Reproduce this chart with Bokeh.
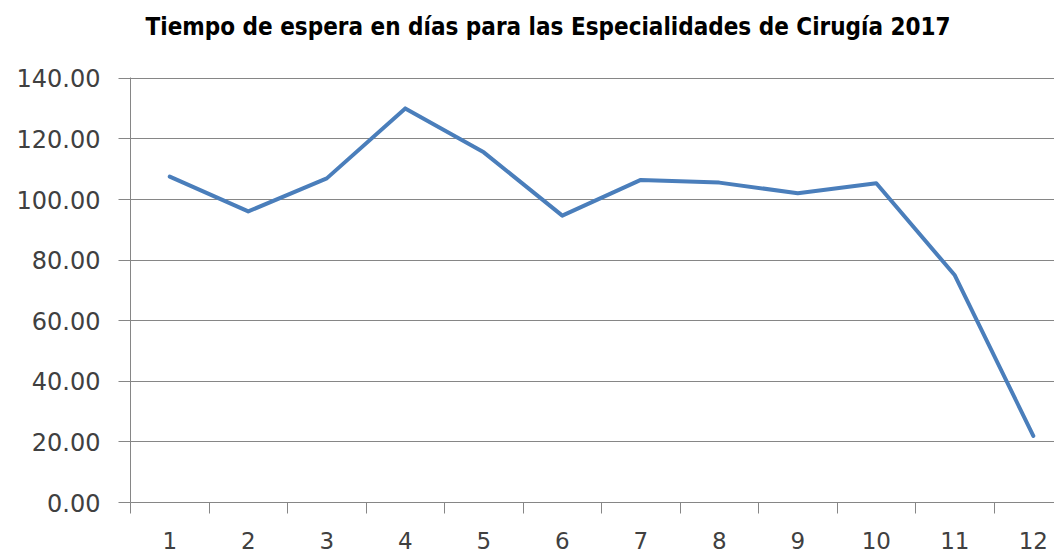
from bokeh.plotting import figure
from bokeh.models import FixedTicker, NumeralTickFormatter, Range1d, Title
from bokeh.embed import file_html
from bokeh.resources import INLINE

months = [1, 2, 3, 4, 5, 6, 7, 8, 9, 10, 11, 12]
wait_days = [107.6, 96.1, 107.0, 130.1, 115.6, 94.7, 106.5, 105.6, 102.1, 105.4, 75.0, 22.0]
y_ticks = [0, 20, 40, 60, 80, 100, 120, 140]
title_text = "Tiempo de espera en días para las Especialidades de Cirugía 2017"

p = figure(width=1054, height=552, output_backend="svg", toolbar_location=None,
           x_range=Range1d(0.5, 12.27), y_range=Range1d(0, 140.3),
           min_border_left=130, min_border_right=0, min_border_top=77, min_border_bottom=50)

# second (blank) line only reserves vertical room so the title sits near the top
p.title = Title(text=title_text + "\n\u00a0", align="left", offset=15, vertical_align="top",
                text_font="DejaVu Sans Condensed", text_font_size="24px",
                text_font_style="bold", text_color="#000000", standoff=14)

p.line(months, wait_days, line_color="#4A7EBB", line_width=4, line_join="round", line_cap="round")

p.outline_line_color = None
p.background_fill_color = "white"
p.border_fill_color = "white"

# y axis
p.yaxis.ticker = FixedTicker(ticks=y_ticks)
p.yaxis.formatter = NumeralTickFormatter(format="0.00")
p.yaxis.axis_line_color = "#868686"
p.yaxis.major_tick_line_color = "#868686"
p.yaxis.major_tick_out = 12
p.yaxis.major_tick_in = 0
p.yaxis.minor_tick_line_color = None
p.yaxis.major_label_standoff = 18
p.yaxis.major_label_text_font = "DejaVu Sans"
p.yaxis.major_label_text_font_size = "24px"
p.yaxis.major_label_text_color = "#404040"
p.ygrid.ticker = FixedTicker(ticks=y_ticks)
p.ygrid.grid_line_color = "#868686"
p.ygrid.grid_line_width = 1

# x axis
p.xaxis.ticker = FixedTicker(ticks=months, minor_ticks=[m - 0.5 for m in months])
p.xaxis.axis_line_color = "#868686"
p.xaxis.major_tick_line_color = None
p.xaxis.major_tick_out = 0
p.xaxis.major_tick_in = 0
p.xaxis.minor_tick_line_color = "#868686"
p.xaxis.minor_tick_out = 11
p.xaxis.minor_tick_in = 0
p.xaxis.major_label_standoff = 18
p.xaxis.major_label_text_font = "DejaVu Sans"
p.xaxis.major_label_text_font_size = "23px"
p.xaxis.major_label_text_color = "#404040"
p.xgrid.grid_line_color = None

open("out.html", "w").write(file_html(p, INLINE))
